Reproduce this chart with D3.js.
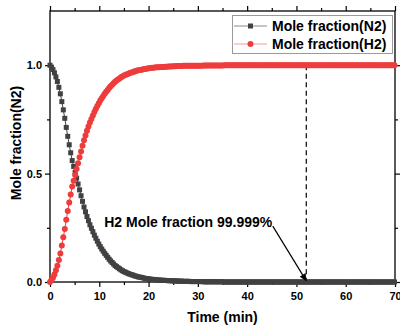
<!DOCTYPE html>
<html>
<head>
<meta charset="utf-8">
<script src="https://cdn.jsdelivr.net/npm/d3@7/dist/d3.min.js"></script>
<style>
	body { margin: 0; background: #fff; }
	text { font-family: Arial, "Liberation Sans", Helvetica, sans-serif; font-weight: bold; }
</style>
</head>
<body>
<svg id="chart" width="400" height="328"></svg>
<script>

	// sampling step of both series (min)
	var timeStep = 0.3;

	// mole fraction of N2, one value per sample (0, 0.3, 0.6 ... min)
	var n2Values = [
		1.000, 0.991, 0.980, 0.965, 0.946, 0.925, 0.898, 0.868, 0.832, 0.794,
		0.755, 0.713, 0.672, 0.633, 0.596, 0.560, 0.533, 0.506, 0.479, 0.452,
		0.425, 0.398, 0.372, 0.346, 0.324, 0.302, 0.283, 0.264, 0.248, 0.232,
		0.216, 0.202, 0.188, 0.175, 0.163, 0.152, 0.142, 0.132, 0.123, 0.114,
		0.105, 0.097, 0.090, 0.083, 0.076, 0.071, 0.066, 0.061, 0.056, 0.052,
		0.048, 0.045, 0.042, 0.039, 0.036, 0.034, 0.032, 0.029, 0.027, 0.025,
		0.023, 0.022, 0.021, 0.019, 0.017, 0.016, 0.015, 0.014, 0.013, 0.012,
		0.012, 0.011, 0.010, 0.009, 0.009, 0.008, 0.008, 0.008, 0.007, 0.007,
		0.006, 0.006, 0.006, 0.005, 0.005, 0.005, 0.004, 0.004, 0.004, 0.004,
		0.003, 0.003, 0.003, 0.003, 0.003, 0.002, 0.002, 0.002, 0.002, 0.002,
		0.002, 0.002, 0.002, 0.002, 0.001, 0.001, 0.001, 0.001, 0.001, 0.001,
		0.001, 0.001, 0.001, 0.001, 0.001, 0.001, 0.001, 0.001, 0.000, 0.000,
		0, 0, 0, 0, 0, 0, 0, 0, 0, 0,
		0, 0, 0, 0, 0, 0, 0, 0, 0, 0,
		0, 0, 0, 0, 0, 0, 0, 0, 0, 0,
		0, 0, 0, 0, 0, 0, 0, 0, 0, 0,
		0, 0, 0, 0, 0, 0, 0, 0, 0, 0,
		0, 0, 0, 0, 0, 0, 0, 0, 0, 0,
		0, 0, 0, 0, 0, 0, 0, 0, 0, 0,
		0, 0, 0, 0, 0, 0, 0, 0, 0, 0,
		0, 0, 0, 0, 0, 0, 0, 0, 0, 0,
		0, 0, 0, 0, 0, 0, 0, 0, 0, 0,
		0, 0, 0, 0, 0, 0, 0, 0, 0, 0,
		0, 0, 0, 0
	];

	// mole fraction of H2, same samples
	var h2Values = [
		0.000, 0.009, 0.020, 0.035, 0.054, 0.075, 0.102, 0.132, 0.168, 0.206,
		0.245, 0.287, 0.328, 0.367, 0.404, 0.440, 0.467, 0.494, 0.521, 0.548,
		0.575, 0.602, 0.628, 0.654, 0.676, 0.698, 0.717, 0.736, 0.752, 0.768,
		0.784, 0.798, 0.812, 0.825, 0.837, 0.848, 0.858, 0.868, 0.877, 0.886,
		0.895, 0.903, 0.910, 0.917, 0.924, 0.929, 0.934, 0.939, 0.944, 0.948,
		0.952, 0.955, 0.958, 0.961, 0.964, 0.966, 0.968, 0.971, 0.973, 0.975,
		0.977, 0.978, 0.979, 0.981, 0.983, 0.984, 0.985, 0.986, 0.987, 0.988,
		0.988, 0.989, 0.990, 0.991, 0.991, 0.992, 0.992, 0.992, 0.993, 0.993,
		0.994, 0.994, 0.994, 0.995, 0.995, 0.995, 0.996, 0.996, 0.996, 0.996,
		0.997, 0.997, 0.997, 0.997, 0.997, 0.998, 0.998, 0.998, 0.998, 0.998,
		0.998, 0.998, 0.998, 0.998, 0.999, 0.999, 0.999, 0.999, 0.999, 0.999,
		0.999, 0.999, 0.999, 0.999, 0.999, 0.999, 0.999, 0.999, 1.000, 1.000,
		1, 1, 1, 1, 1, 1, 1, 1, 1, 1,
		1, 1, 1, 1, 1, 1, 1, 1, 1, 1,
		1, 1, 1, 1, 1, 1, 1, 1, 1, 1,
		1, 1, 1, 1, 1, 1, 1, 1, 1, 1,
		1, 1, 1, 1, 1, 1, 1, 1, 1, 1,
		1, 1, 1, 1, 1, 1, 1, 1, 1, 1,
		1, 1, 1, 1, 1, 1, 1, 1, 1, 1,
		1, 1, 1, 1, 1, 1, 1, 1, 1, 1,
		1, 1, 1, 1, 1, 1, 1, 1, 1, 1,
		1, 1, 1, 1, 1, 1, 1, 1, 1, 1,
		1, 1, 1, 1, 1, 1, 1, 1, 1, 1,
		1, 1, 1, 1
	];

	var xMajorTicks = [0, 10, 20, 30, 40, 50, 60, 70];
	var xMinorTicks = [5, 15, 25, 35, 45, 55, 65];
	var yMajorTicks = [0, 0.5, 1.0];
	var yMinorTicks = [0.25, 0.75];

	var seriesNames = ["Mole fraction(N2)", "Mole fraction(H2)"];

	// annotation: purity marker at 52 min
	var markTime = 52;
	var markLabel = "H2 Mole fraction 99.999%";
	var labelPos = { t: 11, v: 0.255 };
	var arrowFrom = { t: 45.2, v: 0.258 };
	var arrowTo = { t: 52, v: 0.005 };

	var gray = "#414141",
		red = "#ee3c3c";

	var margin = { left: 50, right: 5, top: 11, bottom: 46 },
		width = 400, height = 328;

	var svg = d3.select("#chart");

	var x = d3.scaleLinear()
		.domain([0, 70])
		.range([margin.left, width - margin.right]);

	var y = d3.scaleLinear()
		.domain([0, 1.25])
		.range([height - margin.bottom, margin.top]);

	function toPoints(values) {
		return values.map(function(v, i) { return { t: i * timeStep, v: v }; });
	}

	var n2 = toPoints(n2Values),
		h2 = toPoints(h2Values);

	// axes (ticks outward on all four sides)
	function styleAxis(g) {
		g.select(".domain").remove();
		g.selectAll("line").attr("stroke", "#000").attr("stroke-width", 1.2);
		g.selectAll("text")
			.attr("fill", "#000")
			.style("font-size", "11px")
			.style("font-weight", "bold")
			.style("font-family", "Arial, 'Liberation Sans', sans-serif");
	}

	var x0 = y(0), x1 = y(1.25);

	svg.append("g")
		.attr("transform", "translate(0," + x0 + ")")
		.call(d3.axisBottom(x).tickValues(xMajorTicks).tickSize(5).tickPadding(5).tickFormat(d3.format("d")))
		.call(styleAxis);
	svg.append("g")
		.attr("transform", "translate(0," + x0 + ")")
		.call(d3.axisBottom(x).tickValues(xMinorTicks).tickSize(3).tickFormat(""))
		.call(styleAxis);
	svg.append("g")
		.attr("transform", "translate(0," + x1 + ")")
		.call(d3.axisTop(x).tickValues(xMajorTicks).tickSize(5).tickFormat(""))
		.call(styleAxis);
	svg.append("g")
		.attr("transform", "translate(0," + x1 + ")")
		.call(d3.axisTop(x).tickValues(xMinorTicks).tickSize(3).tickFormat(""))
		.call(styleAxis);

	svg.append("g")
		.attr("transform", "translate(" + x(0) + ",0)")
		.call(d3.axisLeft(y).tickValues(yMajorTicks).tickSize(5).tickPadding(3).tickFormat(d3.format(".1f")))
		.call(styleAxis);
	svg.append("g")
		.attr("transform", "translate(" + x(0) + ",0)")
		.call(d3.axisLeft(y).tickValues(yMinorTicks).tickSize(3).tickFormat(""))
		.call(styleAxis);
	svg.append("g")
		.attr("transform", "translate(" + x(70) + ",0)")
		.call(d3.axisRight(y).tickValues(yMajorTicks).tickSize(5).tickFormat(""))
		.call(styleAxis);
	svg.append("g")
		.attr("transform", "translate(" + x(70) + ",0)")
		.call(d3.axisRight(y).tickValues(yMinorTicks).tickSize(3).tickFormat(""))
		.call(styleAxis);

	// frame
	svg.append("rect")
		.attr("x", x(0))
		.attr("y", y(1.25))
		.attr("width", x(70) - x(0))
		.attr("height", y(0) - y(1.25))
		.attr("fill", "none")
		.attr("stroke", "#000")
		.attr("stroke-width", 1.3);

	// axis titles
	svg.append("text")
		.attr("x", (x(0) + x(70)) / 2)
		.attr("y", 322)
		.attr("text-anchor", "middle")
		.style("font-size", "14px")
		.text("Time (min)");

	svg.append("text")
		.attr("transform", "translate(21," + 143 + ") rotate(-90)")
		.attr("text-anchor", "middle")
		.style("font-size", "14px")
		.text("Mole fraction(N2)");

	// dashed marker line
	svg.append("line")
		.attr("x1", x(markTime)).attr("x2", x(markTime))
		.attr("y1", y(1)).attr("y2", y(0))
		.attr("stroke", "#000")
		.attr("stroke-width", 1.2)
		.attr("stroke-dasharray", "5,3.5");

	var line = d3.line()
		.x(function(d) { return x(d.t); })
		.y(function(d) { return y(d.v); });

	// N2 series, squares
	svg.append("path")
		.attr("d", line(n2))
		.attr("fill", "none")
		.attr("stroke", gray)
		.attr("stroke-width", 1);

	svg.append("g").selectAll("rect")
		.data(n2)
		.enter().append("rect")
		.attr("x", function(d) { return x(d.t) - 2.5; })
		.attr("y", function(d) { return y(d.v) - 2.5; })
		.attr("width", 5)
		.attr("height", 5)
		.attr("fill", gray);

	// H2 series, circles
	svg.append("path")
		.attr("d", line(h2))
		.attr("fill", "none")
		.attr("stroke", red)
		.attr("stroke-width", 1);

	svg.append("g").selectAll("circle")
		.data(h2)
		.enter().append("circle")
		.attr("cx", function(d) { return x(d.t); })
		.attr("cy", function(d) { return y(d.v); })
		.attr("r", 3)
		.attr("fill", red);

	// annotation text and arrow
	svg.append("defs").append("marker")
		.attr("id", "arrowHead")
		.attr("viewBox", "0 0 10 10")
		.attr("refX", 10)
		.attr("refY", 5)
		.attr("markerWidth", 9)
		.attr("markerHeight", 7)
		.attr("markerUnits", "userSpaceOnUse")
		.attr("orient", "auto")
		.append("path")
		.attr("d", "M0,0L10,5L0,10Z")
		.attr("fill", "#000");

	svg.append("text")
		.attr("x", x(labelPos.t))
		.attr("y", y(labelPos.v))
		.style("font-size", "14px")
		.text(markLabel);

	svg.append("line")
		.attr("x1", x(arrowFrom.t)).attr("y1", y(arrowFrom.v))
		.attr("x2", x(arrowTo.t)).attr("y2", y(arrowTo.v))
		.attr("stroke", "#000")
		.attr("stroke-width", 1.2)
		.attr("marker-end", "url(#arrowHead)");

	// legend
	var legend = svg.append("g");

	legend.append("rect")
		.attr("x", 232.5)
		.attr("y", 15.5)
		.attr("width", 160)
		.attr("height", 38)
		.attr("fill", "#fff")
		.attr("stroke", "#9a9a9a")
		.attr("stroke-width", 1);

	var legendRows = legend.selectAll("g.item")
		.data(seriesNames)
		.enter().append("g")
		.attr("class", "item")
		.attr("transform", function(d, i) { return "translate(0," + (26 + i * 18) + ")"; });

	legendRows.append("line")
		.attr("x1", 234).attr("x2", 267)
		.attr("stroke", function(d, i) { return i ? "#f79a9a" : "#8a8a8a"; })
		.attr("stroke-width", 1);

	legendRows.each(function(d, i) {
		var g = d3.select(this);
		if (i === 0) {
			g.append("rect").attr("x", 248).attr("y", -2.5).attr("width", 5).attr("height", 5).attr("fill", gray);
		} else {
			g.append("circle").attr("cx", 250.5).attr("cy", 0).attr("r", 3).attr("fill", red);
		}
	});

	legendRows.append("text")
		.attr("x", 272)
		.attr("y", 5)
		.style("font-size", "14px")
		.text(function(d) { return d; });

</script>
</body>
</html>
